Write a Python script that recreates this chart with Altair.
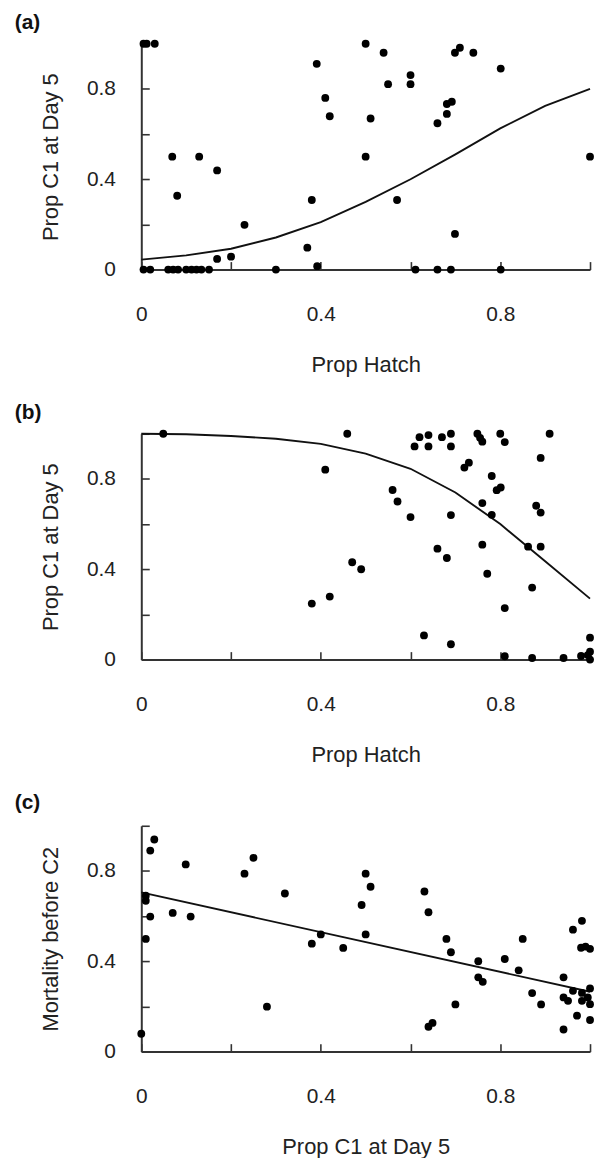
import altair as alt
import pandas as pd

# ---------------- data ----------------
# Panel (a): Prop Hatch vs Prop C1 at Day 5
a_x = [0.005, 0.012, 0.03, 0.069, 0.129, 0.080, 0.169, 0.230, 0.169, 0.20, 0.370, 0.380,
       0.391, 0.410, 0.420, 0.392, 0.50, 0.50, 0.511, 0.540, 0.600, 0.600, 0.550, 0.570,
       0.699, 0.710, 0.740, 0.801, 0.681, 0.692, 0.681, 0.660, 0.699, 1.0,
       0.005, 0.02, 0.06, 0.071, 0.082, 0.10, 0.112, 0.123, 0.134, 0.151, 0.30,
       0.611, 0.660, 0.690, 0.801]
a_y = [1.0, 1.0, 1.0, 0.50, 0.50, 0.327, 0.439, 0.198, 0.047, 0.057, 0.097, 0.308,
       0.911, 0.760, 0.679, 0.015, 1.0, 0.50, 0.669, 0.960, 0.861, 0.821, 0.821, 0.308,
       0.960, 0.982, 0.960, 0.890, 0.733, 0.743, 0.689, 0.648, 0.158, 0.50,
       0, 0, 0, 0, 0, 0, 0, 0, 0, 0, 0,
       0, 0, 0, 0]
a_fit_x = [0.0, 0.1, 0.2, 0.3, 0.4, 0.5, 0.6, 0.7, 0.8, 0.9, 1.0]
a_fit_y = [0.044, 0.063, 0.092, 0.142, 0.21, 0.30, 0.40, 0.51, 0.625, 0.725, 0.80]

# Panel (b): Prop Hatch vs Prop C1 at Day 5
b_x = [0.049, 0.459, 0.410, 0.470, 0.490, 0.380, 0.420,
       0.620, 0.640, 0.609, 0.640, 0.670, 0.690, 0.690,
       0.749, 0.755, 0.760, 0.80, 0.81, 0.91, 0.89,
       0.720, 0.73, 0.781, 0.792, 0.801, 0.560, 0.571,
       0.60, 0.69, 0.76, 0.781, 0.880, 0.89, 0.66,
       0.681, 0.76, 0.862, 0.89, 0.771, 0.871, 0.81,
       0.63, 0.69, 0.81, 0.871, 0.941, 0.98, 1.0, 1.0, 0.995, 1.0]
b_y = [1.0, 1.0, 0.841, 0.431, 0.40, 0.248, 0.279,
       0.985, 0.994, 0.944, 0.944, 0.985, 1.0, 0.944,
       1.0, 0.982, 0.965, 1.0, 0.963, 1.0, 0.893,
       0.85, 0.872, 0.813, 0.75, 0.762, 0.751, 0.70,
       0.631, 0.64, 0.693, 0.641, 0.681, 0.651, 0.491,
       0.45, 0.509, 0.50, 0.50, 0.38, 0.319, 0.228,
       0.107, 0.068, 0.015, 0.007, 0.007, 0.016, 0.097, 0.035, 0.02, 0.0]
b_fit_x = [0.0, 0.1, 0.2, 0.3, 0.4, 0.5, 0.6, 0.7, 0.8, 0.9, 1.0]
b_fit_y = [1.0, 0.998, 0.99, 0.978, 0.955, 0.912, 0.845, 0.74, 0.60, 0.435, 0.27]

# Panel (c): Prop C1 at Day 5 vs Mortality before C2
c_x = [0.0, 0.01, 0.01, 0.02, 0.029, 0.02, 0.01, 0.07, 0.11, 0.099, 0.23, 0.25, 0.28,
       0.32, 0.38, 0.40, 0.45, 0.491, 0.50, 0.511, 0.50,
       0.631, 0.64, 0.64, 0.649, 0.68, 0.69, 0.70, 0.751, 0.751, 0.761, 0.81, 0.841,
       0.85, 0.871, 0.891, 0.941, 0.941, 0.951, 0.941, 0.962, 0.982, 0.98, 0.99, 1.0,
       0.962, 0.982, 0.982, 0.971, 1.0, 1.0, 1.0, 0.995]
c_y = [0.079, 0.69, 0.668, 0.89, 0.939, 0.598, 0.499, 0.614, 0.598, 0.829, 0.788, 0.858, 0.199,
       0.70, 0.478, 0.519, 0.459, 0.649, 0.788, 0.73, 0.519,
       0.709, 0.617, 0.11, 0.127, 0.499, 0.44, 0.209, 0.40, 0.329, 0.309, 0.41, 0.36,
       0.499, 0.259, 0.209, 0.329, 0.24, 0.225, 0.098, 0.54, 0.579, 0.46, 0.465, 0.455,
       0.269, 0.26, 0.225, 0.159, 0.28, 0.21, 0.14, 0.24]
c_fit_x = [0.0, 1.0]
c_fit_y = [0.705, 0.265]

label_vals = [0, 0.4, 0.8]
tick_vals = [0, 0.2, 0.4, 0.6, 0.8, 1.0]

W = 451
H = 227
FONT = "Liberation Sans"
AXC = "#333333"
TXT = "#222222"


def panel(px, py, fx, fy, xtitle, ytitle, tag, toff):
    pts = pd.DataFrame({"x": px, "y": py})
    fit = pd.DataFrame({"x": fx, "y": fy})
    sc = alt.Scale(domain=[0, 1], nice=False, zero=False)

    x_lab = alt.Axis(values=label_vals, format=".1~f", ticks=False, tickSize=0,
                     labelFlush=False,
                     labelPadding=34, labelFontSize=21, labelColor=TXT, labelFont=FONT,
                     title=xtitle, titleFontSize=22, titleFontWeight="normal",
                     titleColor=TXT, titleFont=FONT, titlePadding=30,
                     domainColor=AXC, domainWidth=2, grid=False)
    y_lab = alt.Axis(values=label_vals, format=".1~f", ticks=False, tickSize=0,
                     labelFlush=False,
                     labelPadding=26, labelFontSize=21, labelColor=TXT, labelFont=FONT,
                     title=ytitle, titleFontSize=22, titleFontWeight="normal",
                     titleColor=TXT, titleFont=FONT, titlePadding=24,
                     domainColor=AXC, domainWidth=2, grid=False)
    x_tick = alt.Axis(orient="top", offset=-H, values=tick_vals, labels=False, domain=False,
                      ticks=True, tickSize=8, tickColor=AXC, tickWidth=1.6, grid=False,
                      title=None, minExtent=0, maxExtent=0)
    y_tick = alt.Axis(orient="right", offset=-W, values=tick_vals, labels=False, domain=False,
                      ticks=True, tickSize=8, tickColor=AXC, tickWidth=1.6, grid=False,
                      title=None, minExtent=0, maxExtent=0)

    line = alt.Chart(fit).mark_line(color="#111111", strokeWidth=1.9).encode(
        x=alt.X("x:Q", scale=sc, axis=x_tick),
        y=alt.Y("y:Q", scale=sc, axis=y_tick),
    )
    points = alt.Chart(pts).mark_circle(size=62, color="#000000", opacity=1).encode(
        x=alt.X("x:Q", scale=sc, axis=x_lab),
        y=alt.Y("y:Q", scale=sc, axis=y_lab),
    )
    return alt.layer(line, points).resolve_scale(x="independent", y="independent").properties(
        width=W, height=H,
        title=alt.TitleParams(text=tag, anchor="start", fontSize=21, fontWeight="bold",
                              font=FONT, color="#111111", dx=-25, offset=toff,
                              baseline="alphabetic"),
    )


pa = panel(a_x, a_y, a_fit_x, a_fit_y, "Prop Hatch", "Prop C1 at Day 5", "(a)", -10)
pb = panel(b_x, b_y, b_fit_x, b_fit_y, "Prop Hatch", "Prop C1 at Day 5", "(b)", -10)
pc = panel(c_x, c_y, c_fit_x, c_fit_y, "Prop C1 at Day 5", "Mortality before C2", "(c)", -5)

chart = alt.vconcat(pa, pb, pc, spacing=27).properties(
    padding={"left": 14, "top": 9, "right": 0, "bottom": 0}
).configure(font=FONT).configure_view(strokeWidth=0)

chart.save("out.html", embed_options={"renderer": "svg", "actions": False})
